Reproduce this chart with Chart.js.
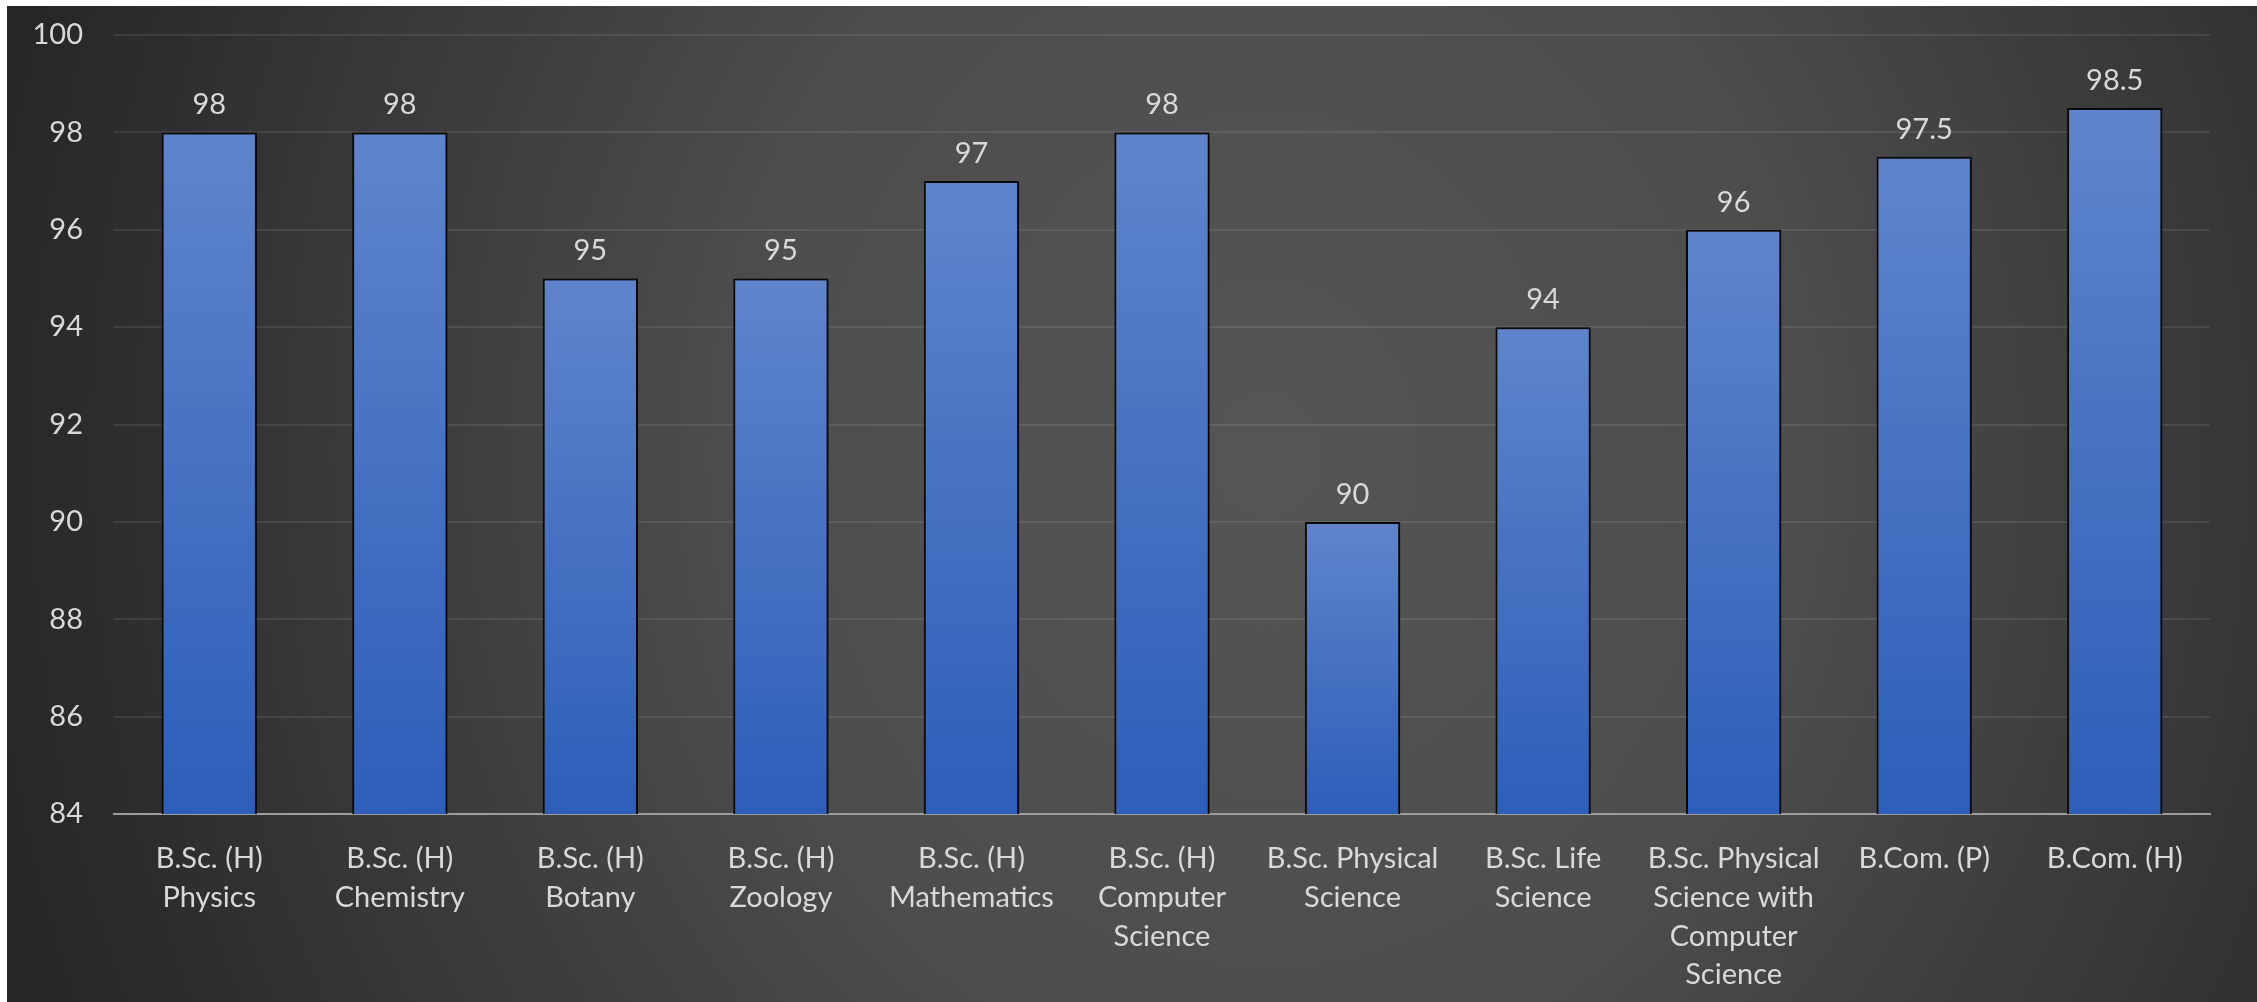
<!DOCTYPE html>
<html>
<head>
<meta charset="utf-8">
<script src="https://cdn.jsdelivr.net/npm/chart.js@4.4.0/dist/chart.umd.min.js"></script>
<style>
  html, body { margin: 0; padding: 0; background: #ffffff; }
  #wrap {
    position: absolute; left: 7px; top: 6px; width: 2250px; height: 996px;
    background: radial-gradient(ellipse 58% 150% at 56% 45%, #555555 0%, #4d4d4d 40%, #262626 100%);
  }
  canvas { display: block; }
</style>
</head>
<body>
<div id="wrap"><canvas id="c" width="2250" height="996"></canvas></div>
<script>
const categories = [
  ["B.Sc. (H)", "Physics"],
  ["B.Sc. (H)", "Chemistry"],
  ["B.Sc. (H)", "Botany"],
  ["B.Sc. (H)", "Zoology"],
  ["B.Sc. (H)", "Mathematics"],
  ["B.Sc. (H)", "Computer", "Science"],
  ["B.Sc. Physical", "Science"],
  ["B.Sc. Life", "Science"],
  ["B.Sc. Physical", "Science with", "Computer", "Science"],
  ["B.Com. (P)"],
  ["B.Com. (H)"]
];
const values = [98, 98, 95, 95, 97, 98, 90, 94, 96, 97.5, 98.5];
const yTicks = [84, 86, 88, 90, 92, 94, 96, 98, 100];

const FONT = "Lato, 'Open Sans', sans-serif";
const TEXT = "#d9d9d9";
const FS = 29;

function barGradient(ctx) {
  const chart = ctx.chart;
  const y = chart.scales && chart.scales.y;
  if (!chart.chartArea || !y || ctx.raw === undefined) return "#4a72c2";
  const top = y.getPixelForValue(ctx.raw);
  const bottom = y.getPixelForValue(yTicks[0]);
  const g = chart.ctx.createLinearGradient(0, top, 0, bottom);
  g.addColorStop(0, "#5f84cb");
  g.addColorStop(1, "#2d5eb9");
  return g;
}

const shadowPlugin = {
  id: "shadow",
  beforeDatasetDraw(chart) {
    const c = chart.ctx;
    c.save();
    c.shadowColor = "rgba(0,0,0,0.45)";
    c.shadowBlur = 8;
    c.shadowOffsetX = 3;
    c.shadowOffsetY = 1;
  },
  afterDatasetDraw(chart) {
    chart.ctx.restore();
  }
};

const labelPlugin = {
  id: "valueLabels",
  afterDatasetsDraw(chart) {
    const c = chart.ctx;
    const meta = chart.getDatasetMeta(0);
    c.save();
    c.font = FS + "px " + FONT;
    c.fillStyle = TEXT;
    c.textAlign = "center";
    c.textBaseline = "alphabetic";
    meta.data.forEach((bar, i) => {
      c.fillText(String(values[i]), bar.x, bar.y - 18);
    });
    c.restore();
  }
};

new Chart(document.getElementById("c"), {
  type: "bar",
  data: {
    labels: categories,
    datasets: [{
      data: values,
      backgroundColor: barGradient,
      borderColor: "#0a0a0a",
      borderWidth: 2,
      borderSkipped: false,
      barPercentage: 0.5,
      categoryPercentage: 1.0
    }]
  },
  options: {
    responsive: false,
    animation: false,
    devicePixelRatio: 1,
    layout: { padding: { left: 0, right: 47, top: 29, bottom: 0 } },
    plugins: {
      legend: { display: false },
      tooltip: { enabled: false },
      title: { display: false }
    },
    scales: {
      x: {
        grid: { display: false, drawTicks: false },
        border: { display: true, color: "#9d9d9d", width: 2 },
        ticks: {
          color: TEXT,
          font: { family: FONT, size: FS, lineHeight: 1.34 },
          padding: 25,
          maxRotation: 0,
          autoSkip: false
        },
        afterFit(scale) { scale.height = 188; scale.paddingTop = 0; scale.paddingBottom = 0; }
      },
      y: {
        min: 84,
        max: 100,
        afterBuildTicks(scale) { scale.ticks = yTicks.map(v => ({ value: v })); },
        grid: { color: "rgba(255,255,255,0.09)", lineWidth: 2, drawTicks: false },
        border: { display: false },
        ticks: {
          color: TEXT,
          font: { family: FONT, size: FS },
          padding: 31
        },
        afterFit(scale) { scale.width = 107; scale.paddingTop = 0; scale.paddingBottom = 0; }
      }
    }
  },
  plugins: [shadowPlugin, labelPlugin]
});
</script>
</body>
</html>
